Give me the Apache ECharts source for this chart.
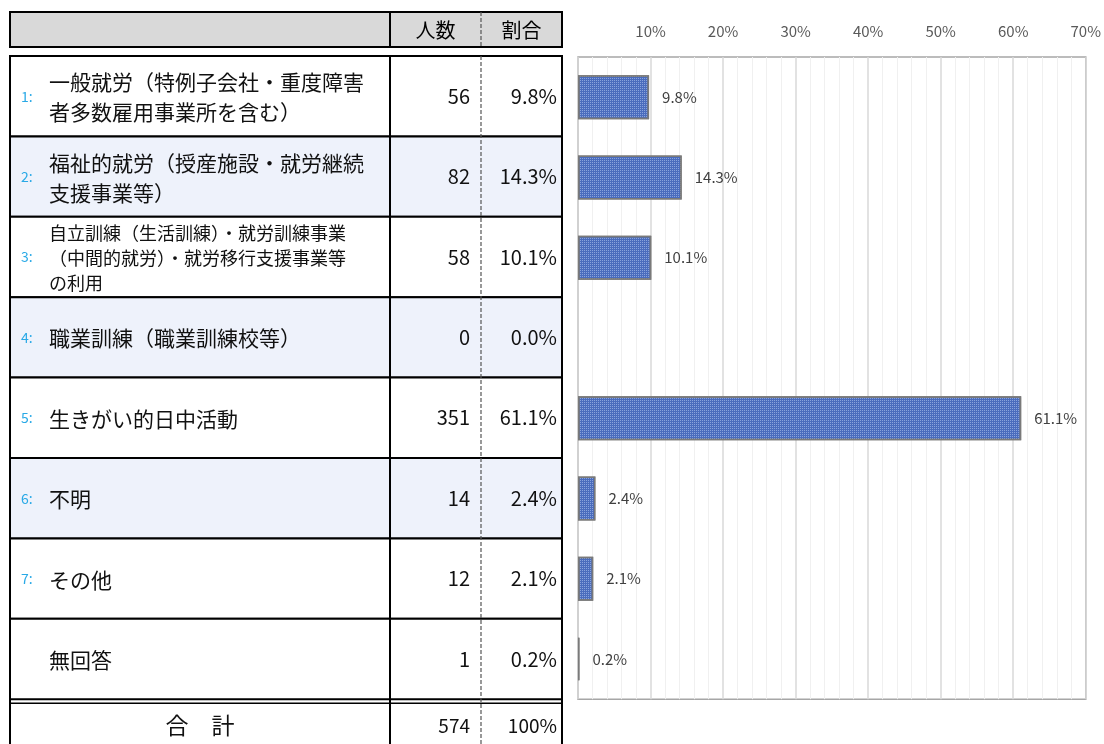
<!DOCTYPE html>
<html>
<head>
    <meta charset="utf-8">
    <title>就労状況</title>
    <script src="https://cdn.jsdelivr.net/npm/echarts@6/dist/echarts.min.js"></script>
    <style>
        html, body { margin: 0; padding: 0; background: #fff; }
        #main { width: 1104px; height: 744px; }
    </style>
</head>
<body>
<div id="main"></div>
<script type="text/javascript">
    // table / chart data
    var rowNo = ['1:', '2:', '3:', '4:', '5:', '6:', '7:', ''];
    var rowLabels = [
        '一般就労（特例子会社・重度障害\n者多数雇用事業所を含む）',
        '福祉的就労（授産施設・就労継続\n支援事業等）',
        '自立訓練（生活訓練）・就労訓練事業\n（中間的就労）・就労移行支援事業等\nの利用',
        '職業訓練（職業訓練校等）',
        '生きがい的日中活動',
        '不明',
        'その他',
        '無回答'
    ];
    var counts = [56, 82, 58, 0, 351, 14, 12, 1];
    var percents = [9.8, 14.3, 10.1, 0.0, 61.1, 2.4, 2.1, 0.2];
    var headers = ['人数', '割合'];
    var totalLabel = '合　計';
    var totalCount = 574;
    var totalPercent = '100%';

    var FONT = '"Noto Sans CJK JP", "Noto Sans", sans-serif';
    var myChart = echarts.init(document.getElementById('main'));

    // table geometry
    var tL = 10, tR = 562, c1 = 390, c2 = 481;
    var headTop = 12, headBot = 47;
    var bodyTop = 56, rowH = 80.4;
    var bodyBot = bodyTop + rowH * rowLabels.length;

    var graphics = [];
    // header
    graphics.push({
        type: 'rect', shape: { x: tL, y: headTop, width: tR - tL, height: headBot - headTop },
        style: { fill: '#d9d9d9', stroke: '#000', lineWidth: 2 }
    });
    graphics.push({ type: 'line', shape: { x1: c1, y1: headTop, x2: c1, y2: headBot }, style: { stroke: '#000', lineWidth: 2 } });
    graphics.push({ type: 'line', shape: { x1: c2, y1: headTop, x2: c2, y2: headBot }, style: { stroke: '#555', lineWidth: 1.2, lineDash: [4, 2] } });
    graphics.push({ type: 'text', x: (c1 + c2) / 2, y: (headTop + headBot) / 2 + 1,
        style: { text: headers[0], font: '20px ' + FONT, fill: '#000', align: 'center', verticalAlign: 'middle' } });
    graphics.push({ type: 'text', x: (c2 + tR) / 2, y: (headTop + headBot) / 2 + 1,
        style: { text: headers[1], font: '20px ' + FONT, fill: '#000', align: 'center', verticalAlign: 'middle' } });

    // body rows
    rowLabels.forEach(function (label, i) {
        var y0 = bodyTop + rowH * i;
        var cy = y0 + rowH / 2;
        graphics.push({
            type: 'rect', shape: { x: tL, y: y0, width: tR - tL, height: rowH },
            style: { fill: i % 2 === 1 && i < 6 ? '#eef2fb' : '#fff', stroke: '#000', lineWidth: 2 }
        });
        graphics.push({ type: 'text', x: 21, y: cy,
            style: { text: rowNo[i], font: '14px ' + FONT, fill: '#29a9e6', verticalAlign: 'middle' } });
        var small = i === 2;
        graphics.push({ type: 'text', x: 49, y: cy + 1,
            style: { text: label, font: (small ? '18px ' : '21px ') + FONT, lineHeight: small ? 25 : 30,
                fill: '#111', verticalAlign: 'middle' } });
        graphics.push({ type: 'text', x: c2 - 11, y: cy,
            style: { text: String(counts[i]), font: '20px ' + FONT, fill: '#111', align: 'right', verticalAlign: 'middle' } });
        graphics.push({ type: 'text', x: tR - 5, y: cy,
            style: { text: percents[i].toFixed(1) + '%', font: '20px ' + FONT, fill: '#111', align: 'right', verticalAlign: 'middle' } });
    });
    graphics.push({ type: 'line', shape: { x1: c1, y1: bodyTop, x2: c1, y2: 744 }, style: { stroke: '#000', lineWidth: 2 } });
    graphics.push({ type: 'line', shape: { x1: c2, y1: bodyTop, x2: c2, y2: 744 }, style: { stroke: '#555', lineWidth: 1.2, lineDash: [4, 2] } });
    // double line + total row
    graphics.push({ type: 'line', shape: { x1: tL, y1: bodyBot + 4, x2: tR, y2: bodyBot + 4 }, style: { stroke: '#000', lineWidth: 1.5 } });
    graphics.push({ type: 'line', shape: { x1: tL, y1: bodyBot, x2: tL, y2: 744 }, style: { stroke: '#000', lineWidth: 2 } });
    graphics.push({ type: 'line', shape: { x1: tR, y1: bodyBot, x2: tR, y2: 744 }, style: { stroke: '#000', lineWidth: 2 } });
    var totY = (bodyBot + 4 + 744) / 2 + 2;
    graphics.push({ type: 'text', x: (tL + c1) / 2, y: totY,
        style: { text: totalLabel, font: '23px ' + FONT, fill: '#111', align: 'center', verticalAlign: 'middle' } });
    graphics.push({ type: 'text', x: c2 - 11, y: totY,
        style: { text: String(totalCount), font: '19px ' + FONT, fill: '#111', align: 'right', verticalAlign: 'middle' } });
    graphics.push({ type: 'text', x: tR - 5, y: totY,
        style: { text: totalPercent, font: '19px ' + FONT, fill: '#111', align: 'right', verticalAlign: 'middle' } });

    // bars: a zero value gets no outline
    var barData = percents.map(function (v) {
        return v === 0 ? { value: v, itemStyle: { borderWidth: 0 } } : v;
    });

    var option = {
        animation: false,
        textStyle: { fontFamily: FONT },
        grid: {
            left: 578, top: 57, width: 508, height: bodyBot - 57,
            show: true, borderColor: '#a6a6a6', borderWidth: 1.5, backgroundColor: 'transparent'
        },
        xAxis: {
            type: 'value', position: 'top', min: 0, max: 70, interval: 10,
            axisLine: { show: false }, axisTick: { show: false },
            axisLabel: {
                color: '#595959', fontSize: 15, margin: 18,
                formatter: function (v) { return v === 0 ? '' : v + '%'; }
            },
            splitLine: { show: true, lineStyle: { color: '#d9d9d9', width: 1.5 } },
            minorTick: { show: false, splitNumber: 5 },
            minorSplitLine: { show: true, lineStyle: { color: '#f0f0f0', width: 1 } }
        },
        yAxis: {
            type: 'category', inverse: true, data: rowLabels,
            axisLine: { show: false }, axisTick: { show: false }, axisLabel: { show: false },
            splitLine: { show: false }
        },
        series: [{
            type: 'bar',
            data: barData,
            barWidth: 44,
            itemStyle: {
                color: '#4a6cbd',
                borderColor: '#7a7a7a',
                borderWidth: 1.5,
                decal: {
                    symbol: 'rect', symbolSize: 1,
                    dashArrayX: [1, 1], dashArrayY: [1, 1],
                    color: 'rgba(190, 210, 245, 0.55)'
                }
            },
            label: {
                show: true, position: 'right', distance: 13,
                color: '#404040', fontSize: 15,
                formatter: function (p) { return p.value === 0 ? '' : p.value.toFixed(1) + '%'; }
            }
        }],
        graphic: graphics
    };
    myChart.setOption(option);
    window.onresize = myChart.resize;
</script>
</body>
</html>
